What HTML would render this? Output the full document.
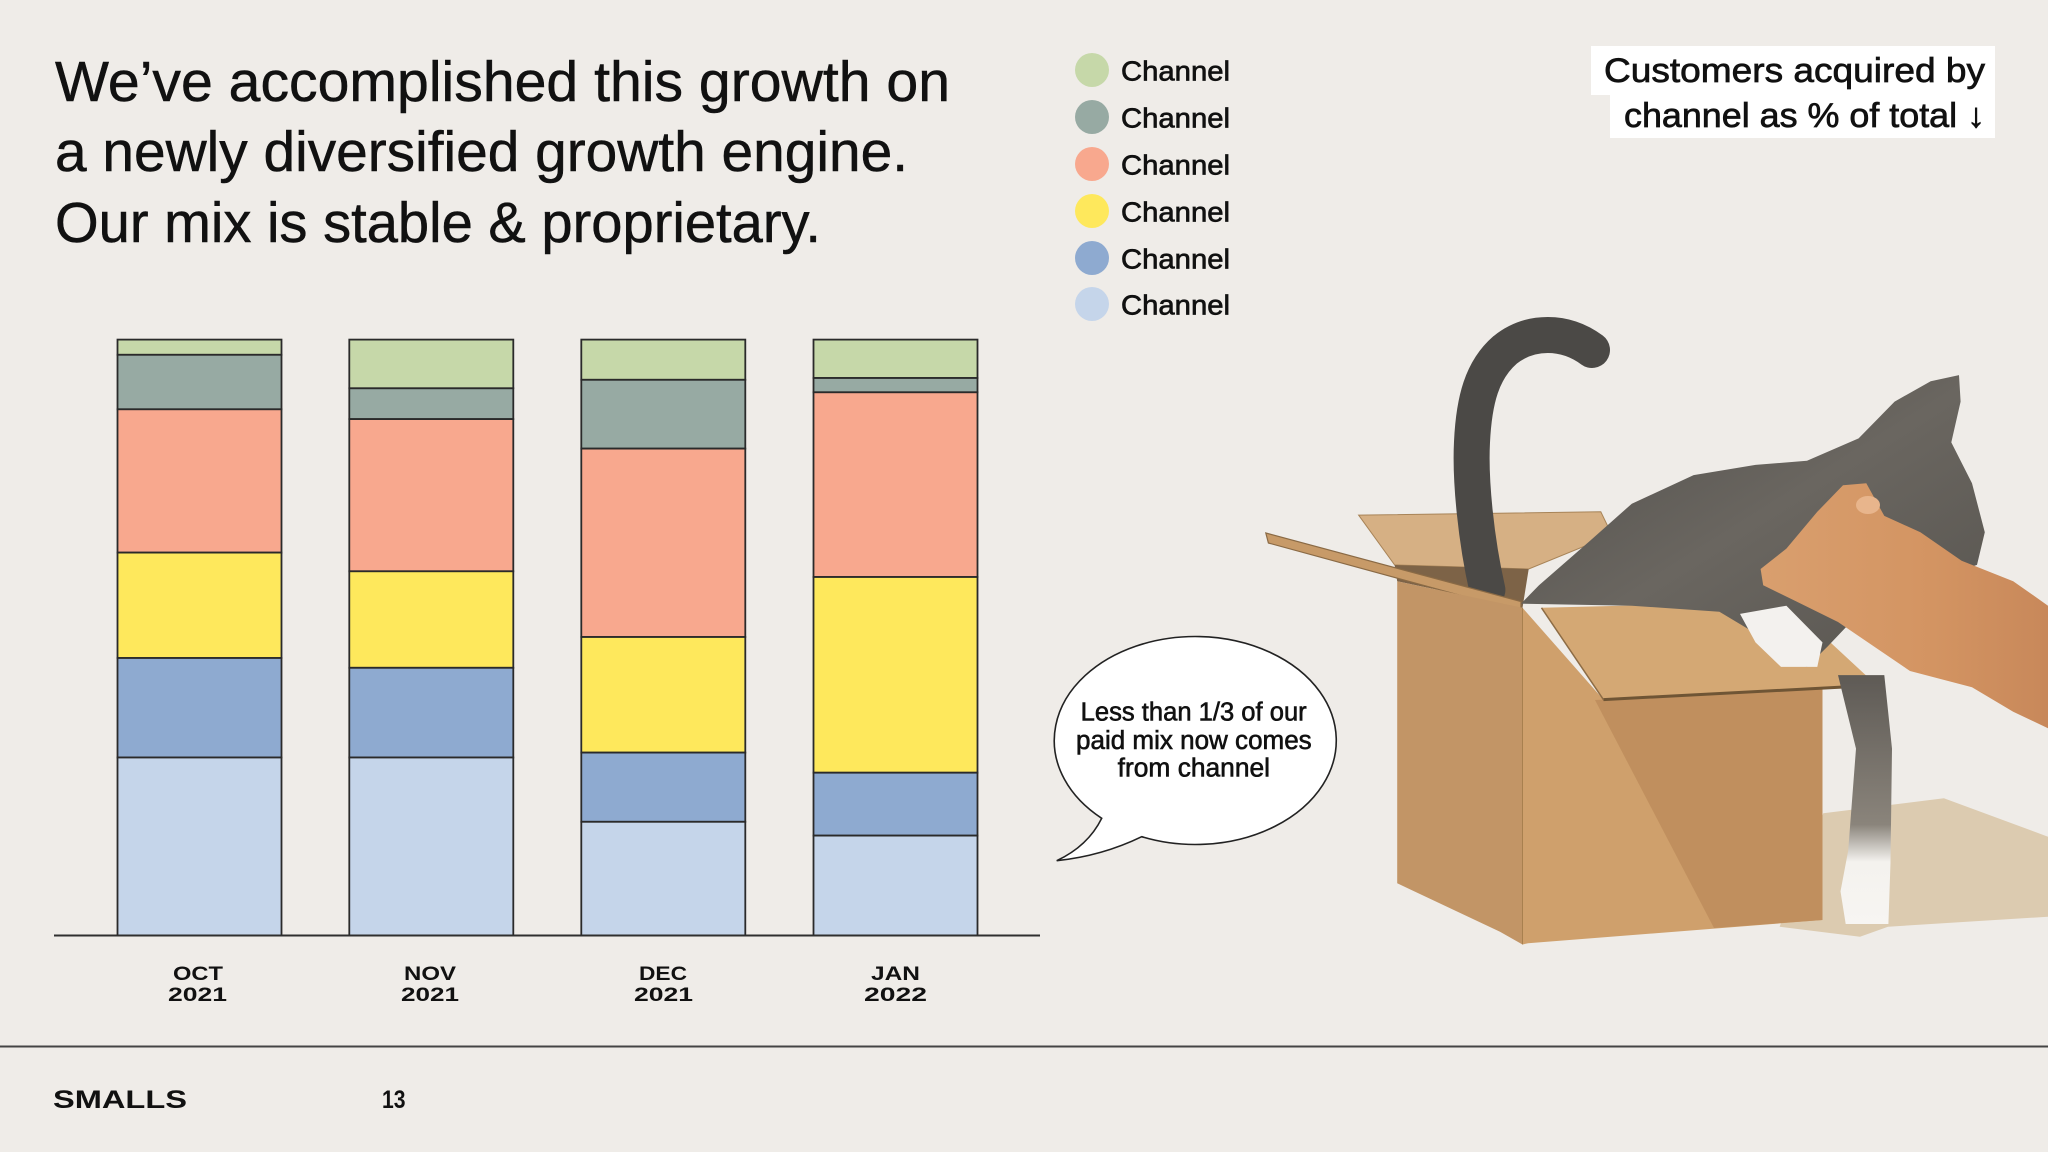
<!DOCTYPE html>
<html>
<head>
<meta charset="utf-8">
<style>
  html, body { margin: 0; padding: 0; background: #efece8; }
  svg { display: block; }
  .sans { font-family: "Liberation Sans", "DejaVu Sans", sans-serif; }
</style>
</head>
<body>
<svg width="2048" height="1152" viewBox="0 0 2048 1152" xmlns="http://www.w3.org/2000/svg">
  <defs>
    <linearGradient id="catG" x1="0" y1="0" x2="1" y2="1">
      <stop offset="0" stop-color="#4f4d4a"/>
      <stop offset="0.5" stop-color="#6a6660"/>
      <stop offset="1" stop-color="#57544f"/>
    </linearGradient>
    <linearGradient id="handG" x1="0" y1="0" x2="1" y2="0">
      <stop offset="0" stop-color="#d99f6e"/>
      <stop offset="0.6" stop-color="#d39462"/>
      <stop offset="1" stop-color="#c8885a"/>
    </linearGradient>
    <linearGradient id="legG" x1="0" y1="0" x2="0" y2="1">
      <stop offset="0" stop-color="#5e5a55"/>
      <stop offset="0.6" stop-color="#8a847b"/>
      <stop offset="0.75" stop-color="#f4f2ee"/>
      <stop offset="1" stop-color="#f7f5f2"/>
    </linearGradient>
  </defs>

  <rect x="0" y="0" width="2048" height="1152" fill="#efece8"/>

  <!-- Headline -->
  <g class="sans" fill="#111" stroke="#111" stroke-width="0.5" font-size="57">
    <text x="55" y="101" textLength="895" lengthAdjust="spacingAndGlyphs">We’ve accomplished this growth on</text>
    <text x="55" y="171" textLength="853" lengthAdjust="spacingAndGlyphs">a newly diversified growth engine.</text>
    <text x="55" y="242" textLength="766" lengthAdjust="spacingAndGlyphs">Our mix is stable &amp; proprietary.</text>
  </g>

  <!-- Legend -->
  <g>
    <circle cx="1092" cy="70" r="17" fill="#c6d8a9"/>
    <circle cx="1092" cy="117" r="17" fill="#97aaa3"/>
    <circle cx="1092" cy="164" r="17" fill="#f8a88e"/>
    <circle cx="1092" cy="211" r="17" fill="#fee85c"/>
    <circle cx="1092" cy="258" r="17" fill="#8eaad0"/>
    <circle cx="1092" cy="304" r="17" fill="#c5d5ea"/>
  </g>
  <g class="sans" fill="#111" stroke="#111" stroke-width="0.7" font-size="28">
    <text x="1121" y="80.5" textLength="109" lengthAdjust="spacingAndGlyphs">Channel</text>
    <text x="1121" y="127.5" textLength="109" lengthAdjust="spacingAndGlyphs">Channel</text>
    <text x="1121" y="174.5" textLength="109" lengthAdjust="spacingAndGlyphs">Channel</text>
    <text x="1121" y="221.5" textLength="109" lengthAdjust="spacingAndGlyphs">Channel</text>
    <text x="1121" y="268.5" textLength="109" lengthAdjust="spacingAndGlyphs">Channel</text>
    <text x="1121" y="314.5" textLength="109" lengthAdjust="spacingAndGlyphs">Channel</text>
  </g>

  <!-- Title box -->
  <rect x="1591" y="46" width="404" height="49" fill="#ffffff"/>
  <rect x="1610" y="94" width="385" height="44" fill="#ffffff"/>
  <g class="sans" fill="#111" stroke="#111" stroke-width="0.7" font-size="34">
    <text x="1604" y="82" textLength="381" lengthAdjust="spacingAndGlyphs">Customers acquired by</text>
    <text x="1624" y="127" textLength="361" lengthAdjust="spacingAndGlyphs">channel as % of total ↓</text>
  </g>

  <!-- Bars -->
  <g stroke="#2a2a2a" stroke-width="1.8">
    <!-- OCT -->
    <rect x="117.5" y="339.6" width="164" height="15.2" fill="#c6d8a9"/>
    <rect x="117.5" y="354.8" width="164" height="54.5" fill="#97aaa3"/>
    <rect x="117.5" y="409.3" width="164" height="143.3" fill="#f8a88e"/>
    <rect x="117.5" y="552.6" width="164" height="105.4" fill="#fee85c"/>
    <rect x="117.5" y="658" width="164" height="99.5" fill="#8eaad0"/>
    <rect x="117.5" y="757.5" width="164" height="178" fill="#c5d5ea"/>
    <!-- NOV -->
    <rect x="349.3" y="339.6" width="164" height="48.7" fill="#c6d8a9"/>
    <rect x="349.3" y="388.3" width="164" height="30.8" fill="#97aaa3"/>
    <rect x="349.3" y="419.1" width="164" height="152.2" fill="#f8a88e"/>
    <rect x="349.3" y="571.3" width="164" height="96.5" fill="#fee85c"/>
    <rect x="349.3" y="667.8" width="164" height="89.7" fill="#8eaad0"/>
    <rect x="349.3" y="757.5" width="164" height="178" fill="#c5d5ea"/>
    <!-- DEC -->
    <rect x="581.3" y="339.6" width="164" height="40.2" fill="#c6d8a9"/>
    <rect x="581.3" y="379.8" width="164" height="68.8" fill="#97aaa3"/>
    <rect x="581.3" y="448.6" width="164" height="188.4" fill="#f8a88e"/>
    <rect x="581.3" y="637" width="164" height="115.6" fill="#fee85c"/>
    <rect x="581.3" y="752.6" width="164" height="69.2" fill="#8eaad0"/>
    <rect x="581.3" y="821.8" width="164" height="113.7" fill="#c5d5ea"/>
    <!-- JAN -->
    <rect x="813.5" y="339.6" width="164" height="38.4" fill="#c6d8a9"/>
    <rect x="813.5" y="378" width="164" height="14.3" fill="#97aaa3"/>
    <rect x="813.5" y="392.3" width="164" height="184.7" fill="#f8a88e"/>
    <rect x="813.5" y="577" width="164" height="195.7" fill="#fee85c"/>
    <rect x="813.5" y="772.7" width="164" height="62.9" fill="#8eaad0"/>
    <rect x="813.5" y="835.6" width="164" height="99.9" fill="#c5d5ea"/>
  </g>
  <line x1="54" y1="935.5" x2="1040" y2="935.5" stroke="#2f2f2f" stroke-width="2"/>

  <!-- X labels -->
  <g class="sans" fill="#111" font-size="19.5" font-weight="bold">
    <text x="173" y="980" textLength="50" lengthAdjust="spacingAndGlyphs">OCT</text>
    <text x="168" y="1001" textLength="59" lengthAdjust="spacingAndGlyphs">2021</text>
    <text x="404" y="980" textLength="52" lengthAdjust="spacingAndGlyphs">NOV</text>
    <text x="401" y="1001" textLength="58" lengthAdjust="spacingAndGlyphs">2021</text>
    <text x="639" y="980" textLength="48" lengthAdjust="spacingAndGlyphs">DEC</text>
    <text x="634" y="1001" textLength="59" lengthAdjust="spacingAndGlyphs">2021</text>
    <text x="871" y="980" textLength="49" lengthAdjust="spacingAndGlyphs">JAN</text>
    <text x="864" y="1001" textLength="63" lengthAdjust="spacingAndGlyphs">2022</text>
  </g>

  <!-- Speech bubble -->
  <path d="M 1101.7 818.3 Q 1088 846 1056.7 860.7 Q 1102 856 1141.7 836.7 A 141 104 0 1 0 1101.7 818.3 Z"
        fill="#ffffff" stroke="#222" stroke-width="1.6"/>
  <g class="sans" fill="#111" stroke="#111" stroke-width="0.6" font-size="25.5">
    <text x="1080.7" y="720.7" textLength="226" lengthAdjust="spacingAndGlyphs">Less than 1/3 of our</text>
    <text x="1076" y="749" textLength="235.7" lengthAdjust="spacingAndGlyphs">paid mix now comes</text>
    <text x="1117.7" y="776.7" textLength="152.3" lengthAdjust="spacingAndGlyphs">from channel</text>
  </g>

  <!-- Photo: cat in box -->
  <polygon points="1779.6,926.7 1823.3,813.3 1943.9,798.3 2048,836.7 2048,916.7 1888,926.7 1860,936.7" fill="#dccbb0"/>
  <polygon points="1358.6,515.1 1600.8,511.8 1612,535 1528.7,569 1394.6,564.9" fill="#d6b084" stroke="#a88458" stroke-width="1"/>
  <polygon points="1394.6,565 1528.7,569 1522.5,607.8 1397.2,581.2" fill="#7d6347"/>
  <path d="M 1487.4 590 C 1476 540 1470 480 1472 442 C 1474 400 1482 370 1505 350 C 1530 330 1565 330 1592 350"
        fill="none" stroke="#4b4946" stroke-width="36" stroke-linecap="round"/>
  <polygon points="1265.8,533 1521,601.6 1521,612 1268.4,543" fill="#c79a68" stroke="#8a6a45" stroke-width="1.2"/>
  <polygon points="1397.2,581.2 1522.5,607.8 1522.5,944.5 1500,931.7 1397.2,883.3" fill="#c29566"/>
  <polygon points="1522.5,607.8 1603.4,699.6 1822.5,690 1822.5,920 1528,943.3 1522.5,944.5" fill="#cfa06c"/>
  <polygon points="1595,700 1822.5,689 1822.5,920 1714,928" fill="#c08f5e"/>
  <line x1="1522.5" y1="607.8" x2="1522.5" y2="944.5" stroke="#a8804f" stroke-width="1"/>
  <polygon points="1541.5,607.8 1786.4,601.6 1876.6,685.3 1603.4,699.6" fill="#d4a874"/>
  <line x1="1603.4" y1="699.6" x2="1876.6" y2="685.3" stroke="#6f5535" stroke-width="3"/>
  <line x1="1541.5" y1="607.8" x2="1603.4" y2="699.6" stroke="#8d6c45" stroke-width="1.5"/>
  <polygon points="1521,603.7 1539,585.3 1590.5,540.4 1631.8,503.7 1693.6,475.1 1755.5,464.9 1807,460.8 1858.6,438.4 1894.6,401.6 1930.7,381.2 1959,375.1 1960.6,401.6 1951.3,442.4 1972,483.3 1984.8,532.2 1977,564.9 1930.7,581.2 1899.8,589.4 1858.6,613.9 1827.6,646.5 1807,666.9 1776,658.8 1750.3,630.2 1719.4,611.8 1631.8,605.7"
           fill="url(#catG)"/>
  <polygon points="1740,613.9 1786.4,605.7 1822.5,642.4 1817.3,666.9 1781,666.9 1755.5,642.4" fill="#f3f1ee"/>
  <polygon points="1838,675.1 1884.3,675.1 1892,748.6 1890.5,862.9 1888.4,924 1845.7,924 1840.5,891.4 1848.2,850.6 1856,748.6" fill="url(#legG)"/>
  <polygon points="2048,605.7 2013.2,581.2 1961.6,560.8 1920.4,532.2 1884.3,515.9 1866.3,483.3 1843,485.3 1817.3,511.8 1786.4,548.6 1760.6,569 1763.2,585.3 1796.7,601.6 1838,622 1874,646.5 1910,671 1972,687.3 2013.2,711.8 2048,728.2"
           fill="url(#handG)"/>
  <ellipse cx="1868" cy="505" rx="12" ry="9" fill="#e8b58c"/>

  <!-- Footer -->
  <line x1="0" y1="1046.5" x2="2048" y2="1046.5" stroke="#444" stroke-width="2"/>
  <g class="sans" fill="#111" font-size="25" font-weight="bold">
    <text x="53" y="1108" textLength="134" lengthAdjust="spacingAndGlyphs">SMALLS</text>
    <text x="382" y="1108" textLength="23.5" lengthAdjust="spacingAndGlyphs">13</text>
  </g>
</svg>
</body>
</html>
